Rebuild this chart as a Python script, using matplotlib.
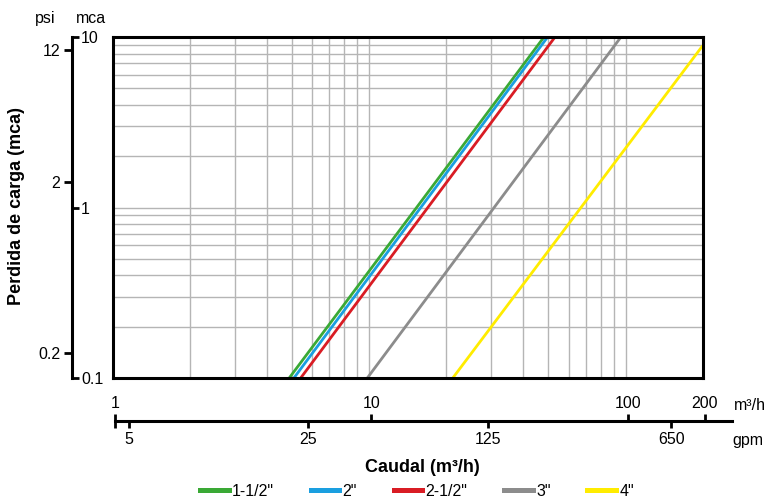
import matplotlib.pyplot as plt
from matplotlib.ticker import NullLocator
from matplotlib.lines import Line2D

plt.rcParams['font.family'] = ['Liberation Sans', 'DejaVu Sans']

# series: pressure loss lines (start/end points)
sizes = ['1-1/2"', '2"', '2-1/2"', '3"', '4"']
colors = ['#3aa935', '#1a9fe0', '#d91c24', '#8c8c8c', '#ffec00']
q_start = [4.88, 5.09, 5.41, 9.84, 21.2]    # m3/h
q_end = [48.1, 49.7, 53.1, 96.0, 200.0]
h_start = [0.1, 0.1, 0.1, 0.1, 0.1]         # mca
h_end = [10, 10, 10, 10, 8.9]

# axis ticks
mca_ticks = [0.1, 1, 10]
mca_labels = ['0.1', '1', '10']
psi_ticks = [0.2, 2, 12]
psi_labels = ['0.2', '2', '12']
m3h_ticks = [1, 10, 100, 200]
m3h_labels = ['1', '10', '100', '200']
gpm_ticks = [5, 25, 125, 650]
gpm_labels = ['5', '25', '125', '650']

MCA_TO_PSI = 1.422
M3H_TO_GPM = 4.403

W, H = 765, 500
FS = 11.5
fig = plt.figure(figsize=(W / 100, H / 100), dpi=100)


def box(x0, y0, x1, y1):
    # pixel box -> figure fraction
    return [x0 / W, 1 - y1 / H, max(x1 - x0, 0.01) / W, max(y1 - y0, 0.01) / H]


# main plot
ax = fig.add_axes(box(112.7, 37, 702.7, 378))
ax.set_xscale('log')
ax.set_yscale('log')
ax.set_xlim(1, 200)
ax.set_ylim(0.1, 10)
ax.set_axisbelow(True)
ax.grid(True, which='both', color='#b5b5b5', lw=1)
ax.tick_params(which='both', length=0, labelbottom=False, labelleft=False)
for s in ax.spines.values():
    s.set_linewidth(2.2)
for i in range(len(sizes)):
    ax.plot([q_start[i], q_end[i]], [h_start[i], h_end[i]], color=colors[i],
            lw=2.0, solid_capstyle='butt')

# left axis: mca (ticks to the right) and psi (ticks to the left)
xl = 71.5
ax_mca = fig.add_axes(box(xl, 37, xl, 378))
ax_mca.set_yscale('log')
ax_mca.set_ylim(0.1, 10)
ax_mca.yaxis.tick_right()
ax_mca.set_yticks(mca_ticks, labels=mca_labels)
ax_mca.yaxis.set_minor_locator(NullLocator())
ax_mca.tick_params(axis='y', direction='out', length=5, width=2, labelsize=FS, pad=2)
ax_mca.set_xticks([])
for k in ['top', 'bottom', 'right']:
    ax_mca.spines[k].set_visible(False)
ax_mca.spines['left'].set_linewidth(2.2)
ax_mca.patch.set_visible(False)

ax_psi = fig.add_axes(box(xl, 37, xl, 378))
ax_psi.set_yscale('log')
ax_psi.set_ylim(0.1 * MCA_TO_PSI, 10 * MCA_TO_PSI)
ax_psi.set_yticks(psi_ticks, labels=psi_labels)
ax_psi.yaxis.set_minor_locator(NullLocator())
ax_psi.tick_params(axis='y', direction='out', length=6, width=2, labelsize=FS, pad=2)
ax_psi.set_xticks([])
for s in ax_psi.spines.values():
    s.set_visible(False)
ax_psi.patch.set_visible(False)

# bottom axis: m3/h (ticks up) and gpm (ticks down)
yb = 421
x_end = 732
xmax = 10 ** ((x_end - 115) / 256.4)
ax_q = fig.add_axes(box(115, yb, x_end, yb))
ax_q.set_xscale('log')
ax_q.set_xlim(1, xmax)
ax_q.xaxis.tick_top()
ax_q.set_xticks(m3h_ticks, labels=m3h_labels)
ax_q.xaxis.set_minor_locator(NullLocator())
ax_q.tick_params(axis='x', direction='out', length=5, width=2, labelsize=FS, pad=2)
ax_q.set_yticks([])
for k in ['top', 'left', 'right']:
    ax_q.spines[k].set_visible(False)
ax_q.spines['bottom'].set_linewidth(2.2)
ax_q.patch.set_visible(False)

ax_g = fig.add_axes(box(115, yb, x_end, yb))
ax_g.set_xscale('log')
ax_g.set_xlim(M3H_TO_GPM, xmax * M3H_TO_GPM)
ax_g.set_xticks([M3H_TO_GPM] + gpm_ticks, labels=[''] + gpm_labels)
ax_g.xaxis.set_minor_locator(NullLocator())
ax_g.tick_params(axis='x', direction='out', length=5, width=2, labelsize=FS, pad=3)
ax_g.set_yticks([])
for s in ax_g.spines.values():
    s.set_visible(False)
ax_g.patch.set_visible(False)

# texts
fig.text(45.5 / W, 1 - 23 / H, 'psi', ha='center', va='baseline', fontsize=FS)
fig.text(90.5 / W, 1 - 23 / H, 'mca', ha='center', va='baseline', fontsize=FS)
fig.text(734 / W, 1 - 405 / H, 'm³/h', ha='left', va='center', fontsize=FS)
fig.text(732 / W, 1 - 441 / H, 'gpm', ha='left', va='center', fontsize=FS)
fig.text(17 / W, 1 - 206 / H, 'Perdida de carga (mca)', rotation=90,
         ha='center', va='center', fontsize=13, fontweight='bold')
fig.text(422 / W, 1 - 467 / H, 'Caudal (m³/h)', ha='center', va='center',
         fontsize=13, fontweight='bold')

# legend
handles = [Line2D([0], [0], color=c, lw=3.6) for c in colors]
fig.legend(handles, sizes, loc='center', bbox_to_anchor=(417 / W, 1 - 491 / H),
           ncol=5, frameon=False, fontsize=FS, handlelength=1.8,
           handletextpad=0.2, columnspacing=2.3)

fig.savefig('out.png', dpi=100)
